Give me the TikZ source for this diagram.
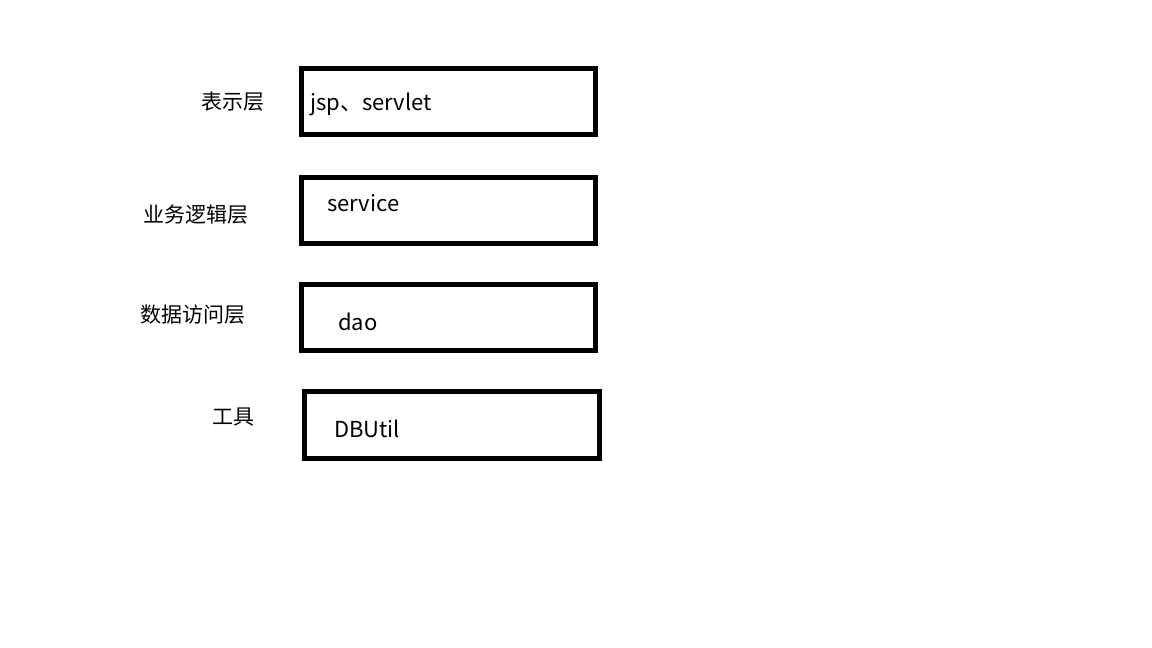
\documentclass[tikz,border=0pt]{standalone}
\usepackage{fontspec}
\setmainfont{Noto Sans CJK SC}
\begin{document}
\begin{tikzpicture}[x=1pt,y=-1pt,
  layerbox/.style={draw=black,line width=5pt,rectangle,inner sep=0pt,minimum width=294pt,minimum height=66pt},
  boxtext/.style={anchor=base west,inner sep=0pt,font=\fontsize{22}{26}\selectfont},
  layerlabel/.style={anchor=west,inner sep=0pt,font=\fontsize{21}{25}\selectfont}]
\useasboundingbox[fill=white] (0,0) rectangle (1152,648);
\node[layerbox] (b1) at (448.5,101.5) {};
\node[layerbox] (b2) at (448,210) {};
\node[layerbox] (b3) at (448.5,317.5) {};
\node[layerbox,minimum width=295pt,minimum height=67pt] (b4) at (452,425) {};
\node[boxtext] (t1) at (310,110) {jsp、servlet};
\node[boxtext] (t2) at (327,211) {service};
\node[boxtext] (t3) at (338,330) {dao};
\node[boxtext] (t4) at (334,437) {DBUtil};
\node[layerlabel] (l1) at (201,102) {表示层};
\node[layerlabel] (l2) at (143,215) {业务逻辑层};
\node[layerlabel] (l3) at (140,315) {数据访问层};
\node[layerlabel] (l4) at (212,417) {工具};
\end{tikzpicture}
\end{document}
